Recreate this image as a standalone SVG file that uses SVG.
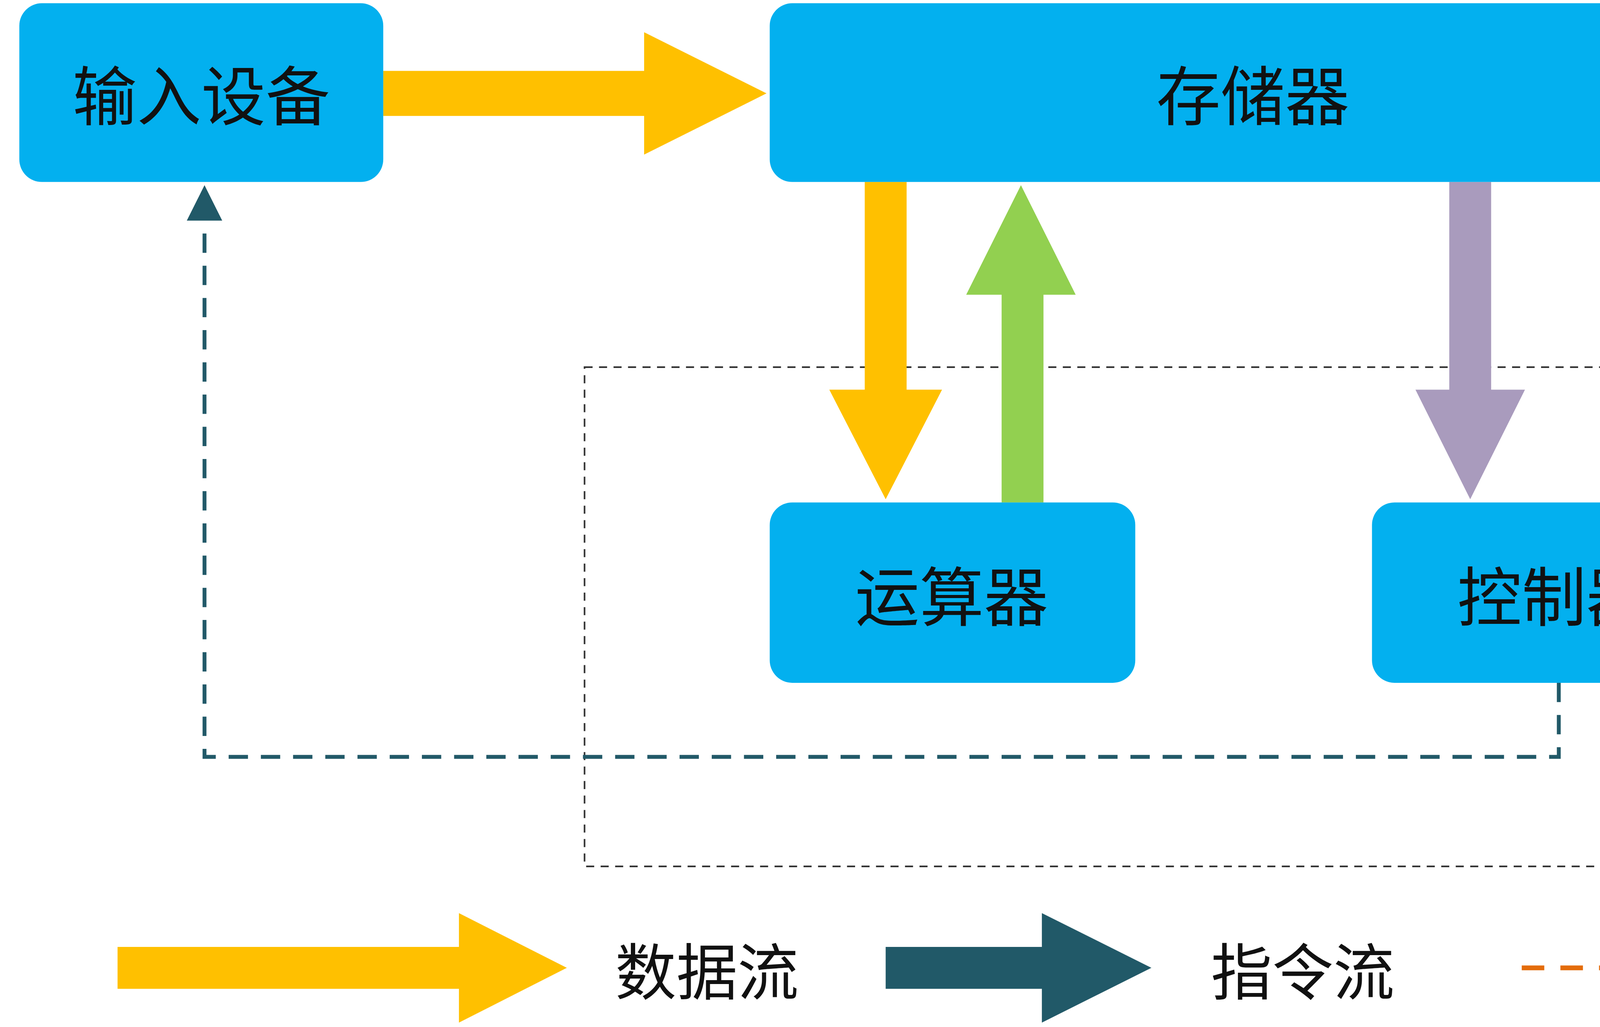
<svg xmlns="http://www.w3.org/2000/svg" width="6431" height="2629" viewBox="0 0 6431 2629">
<defs>
<style>
.box{fill:#03B0EF}
.lbl{font-family:"Noto Sans CJK SC","Noto Sans",sans-serif;font-size:40px;fill:#111;text-anchor:middle;dominant-baseline:central}
.leg{font-family:"Noto Sans CJK SC","Noto Sans",sans-serif;font-size:38px;fill:#111;dominant-baseline:central}
.ctl{fill:none;stroke:#215968;stroke-width:2.4;stroke-dasharray:12 8}
</style>
<marker id="mdk" markerWidth="10" markerHeight="10" refX="5" refY="5" orient="auto" markerUnits="userSpaceOnUse" viewBox="0 0 10 10"><path d="M0,0 L10,5 L0,10Z" fill="#215968"/></marker>
</defs>
<rect width="6431" height="2629" fill="#fff"/>
<g transform="scale(4.1224)">
<g id="cpu-frame">
<rect x="363" y="228" width="829" height="310" fill="none" stroke="#333" stroke-width="1" stroke-dasharray="5 4"/>
<text x="1097" y="490" font-family="Liberation Serif,serif" font-size="34" fill="#111" text-anchor="middle" dominant-baseline="central">CPU</text>
</g>
<g id="connectors">
<path d="M238,44 H400 V20 L476,58 L400,96 V72 H238Z" fill="#FFC000"/>
<path d="M1078,44 H1240 V20 L1316,58 L1240,96 V72 H1078Z" fill="#FFC000"/>
<path d="M537,113 H563 V242 H585 L550,310 L515,242 H537Z" fill="#FFC000"/>
<path d="M622,312 H648 V183 H668 L634,115 L600,183 H622Z" fill="#92D050"/>
<path d="M900,113 H926 V242 H947 L913,310 L879,242 H900Z" fill="#A99BBD"/>
<path d="M1010,312 V124" stroke="#1AA5E0" stroke-width="2" stroke-dasharray="10 6" fill="none"/>
<path d="M1003,125 L1010,115 L1017,125Z" fill="#1AA5E0"/>
<path class="ctl" d="M968,424 V470 H127 V137"/>
<path d="M116,137 L127,115 L138,137Z" fill="#215968"/>
<path class="ctl" d="M1078,374 H1430 V137"/>
<path d="M1419,137 L1430,115 L1441,137Z" fill="#215968"/>
</g>
<g id="n-input"><rect class="box" x="12" y="2" width="226" height="111" rx="14"/><text class="lbl" x="125" y="57">输入设备</text></g>
<g id="n-memory"><rect class="box" x="478" y="2" width="600" height="111" rx="14"/><text class="lbl" x="778" y="57">存储器</text></g>
<g id="n-output"><rect class="box" x="1318" y="2" width="227" height="111" rx="14"/><text class="lbl" x="1431" y="57">输出设备</text></g>
<g id="n-alu"><rect class="box" x="478" y="312" width="227" height="112" rx="14"/><text class="lbl" x="591" y="368">运算器</text></g>
<g id="n-ctrl"><rect class="box" x="852" y="312" width="226" height="112" rx="14"/><text class="lbl" x="965" y="368">控制器</text></g>
<g id="legend">
<path d="M73,588 H285 V567 L352,601 L285,635 V614 H73Z" fill="#FFC000"/>
<text class="leg" x="382" y="601">数据流</text>
<path d="M550,588 H647 V567 L715,601 L647,635 V614 H550Z" fill="#215968"/>
<text class="leg" x="752" y="601">指令流</text>
<path d="M945,601 H1085" stroke="#E46C0A" stroke-width="3" stroke-dasharray="14 10" fill="none"/>
<path d="M1085,590 L1110,601 L1085,612Z" fill="#E46C0A"/>
<text class="leg" x="1168" y="601">控制流</text>
</g>
</g>
</svg>
